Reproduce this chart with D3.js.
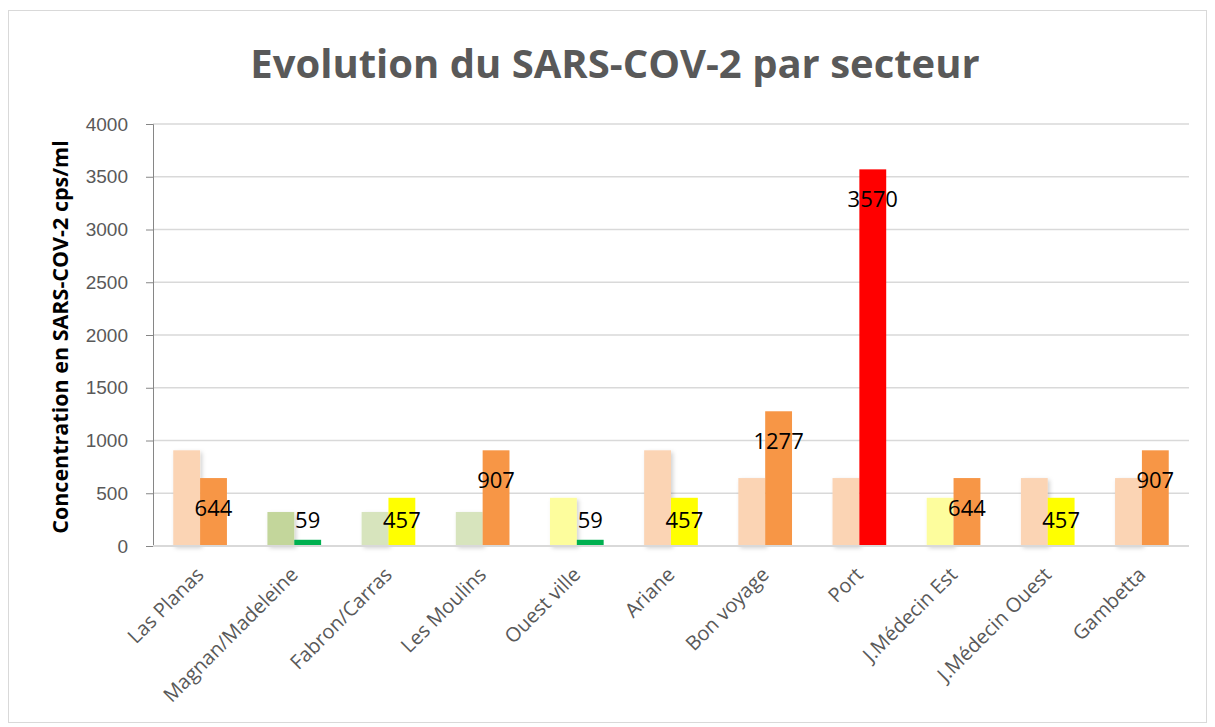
<!DOCTYPE html>
<html>
<head>
<meta charset="utf-8">
<script src="https://cdn.jsdelivr.net/npm/d3@7"></script>
<style>
  body { margin: 0; background: #fff; }
  svg { font-family: "Open Sans", "Liberation Sans", sans-serif; }
</style>
</head>
<body>
<script>
var categories = ["Las Planas", "Magnan/Madeleine", "Fabron/Carras", "Les Moulins", "Ouest ville",
  "Ariane", "Bon voyage", "Port", "J.Médecin Est", "J.Médecin Ouest", "Gambetta"];
var previous = [907, 322, 322, 322, 457, 907, 644, 644, 457, 644, 644];
var current = [644, 59, 457, 907, 59, 457, 1277, 3570, 644, 457, 907];
var previousColors = ["#fbd4b4", "#c3d69b", "#d7e4bd", "#d7e4bd", "#fdfd9d", "#fbd4b4",
  "#fbd4b4", "#fbd4b4", "#fdfd9d", "#fbd4b4", "#fbd4b4"];
var currentColors = ["#f79646", "#00b050", "#ffff00", "#f79646", "#00b050", "#ffff00",
  "#f79646", "#ff0000", "#f79646", "#ffff00", "#f79646"];
var yTicks = [0, 500, 1000, 1500, 2000, 2500, 3000, 3500, 4000];

var width = 1215, height = 727;
var plotLeft = 153, plotRight = 1189, plotTop = 124, plotBottom = 546;

var svg = d3.select("body").append("svg").attr("width", width).attr("height", height);

// shadow for the pale bars
var defs = svg.append("defs");
var f = defs.append("filter").attr("id", "shadow").attr("x", "-30%").attr("y", "-10%").attr("width", "160%").attr("height", "130%");
f.append("feDropShadow").attr("dx", 2).attr("dy", 2).attr("stdDeviation", 2).attr("flood-color", "#000").attr("flood-opacity", 0.18);

svg.append("rect").attr("x", 8.5).attr("y", 10.5).attr("width", 1198).attr("height", 712)
    .attr("fill", "#fff").attr("stroke", "#d9d9d9");

var x = d3.scaleBand().domain(categories).range([plotLeft, plotRight]).paddingInner(0.43).paddingOuter(0.215);
var x1 = d3.scaleBand().domain([0, 1]).range([0, x.bandwidth()]);
var y = d3.scaleLinear().domain([0, 4000]).range([plotBottom, plotTop]);

// grid
svg.append("g").selectAll("line").data(yTicks.slice(1)).enter().append("line")
    .attr("x1", plotLeft).attr("x2", plotRight)
    .attr("y1", function(d) { return y(d); }).attr("y2", function(d) { return y(d); })
    .attr("stroke", "#d9d9d9").attr("stroke-width", 1.5);

// y axis
var yAxis = svg.append("g").attr("transform", "translate(" + plotLeft + ",0)")
    .call(d3.axisLeft(y).tickValues(yTicks).tickFormat(d3.format("d")).tickSize(7).tickPadding(18));
yAxis.select(".domain").attr("stroke", "#868686");
yAxis.selectAll(".tick line").attr("stroke", "#868686");
yAxis.selectAll("text").attr("fill", "#595959").attr("font-size", 19);

// bars
var groups = svg.append("g").selectAll("g").data(categories).enter().append("g")
    .attr("transform", function(d) { return "translate(" + x(d) + ",0)"; });

groups.append("rect")
    .attr("x", x1(0)).attr("width", x1.bandwidth())
    .attr("y", function(d, i) { return y(previous[i]); })
    .attr("height", function(d, i) { return y(0) - y(previous[i]); })
    .attr("fill", function(d, i) { return previousColors[i]; })
    .attr("filter", "url(#shadow)");

groups.append("rect")
    .attr("x", x1(1)).attr("width", x1.bandwidth())
    .attr("y", function(d, i) { return y(current[i]); })
    .attr("height", function(d, i) { return y(0) - y(current[i]); })
    .attr("fill", function(d, i) { return currentColors[i]; });

groups.append("text")
    .attr("x", x1(1) + x1.bandwidth() / 2)
    .attr("y", function(d, i) { return Math.min(y(current[i]) + 30, y(0) - 26); })
    .attr("dy", "0.35em")
    .attr("text-anchor", "middle")
    .attr("font-size", 22)
    .attr("fill", "#000")
    .text(function(d, i) { return current[i]; });

// x axis line
svg.append("line").attr("x1", plotLeft).attr("x2", plotRight).attr("y1", plotBottom).attr("y2", plotBottom)
    .attr("stroke", "#d9d9d9").attr("stroke-width", 2);

// x labels
svg.append("g").selectAll("text").data(categories).enter().append("text")
    .attr("transform", function(d) { return "translate(" + (x(d) + x.bandwidth() / 2 - 5) + "," + (plotBottom + 20) + ") rotate(-45)"; })
    .attr("text-anchor", "end")
    .attr("dy", "0.7em")
    .attr("font-size", 20)
    .attr("fill", "#595959")
    .text(function(d) { return d; });

// titles
svg.append("text").attr("x", 615).attr("y", 78).attr("text-anchor", "middle")
    .attr("font-size", 40).attr("font-weight", "bold").attr("fill", "#595959")
    .text("Evolution du SARS-COV-2 par secteur");

svg.append("text").attr("transform", "translate(68," + ((plotTop + plotBottom) / 2 + 2) + ") rotate(-90)")
    .attr("text-anchor", "middle").attr("font-size", 21.5).attr("font-weight", "bold").attr("fill", "#000")
    .text("Concentration en SARS-COV-2 cps/ml");
</script>
</body>
</html>
